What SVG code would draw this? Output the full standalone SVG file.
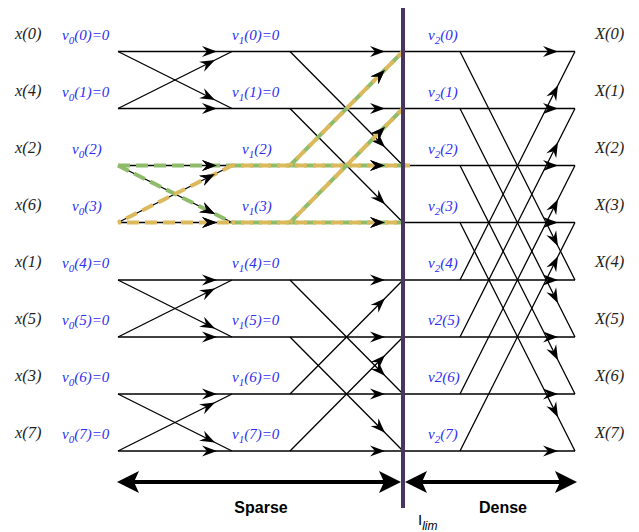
<svg xmlns="http://www.w3.org/2000/svg" width="639" height="532" viewBox="0 0 639 532">
<style>
.lab{font-family:"Liberation Serif",serif;font-style:italic;font-size:15px}
.x{fill:#222;font-size:16.5px}
.v{fill:#2d2df2}
.ln{fill:none;stroke:#000;stroke-width:1.3;marker-mid:url(#ah)}
.mk{fill:none;stroke:none;marker-mid:url(#ah)}
.g{fill:none;stroke:#8fbc6b;stroke-width:4;stroke-dasharray:12 6}
.o{fill:none;stroke:#dcb95c;stroke-width:4;stroke-dasharray:12 6;stroke-dashoffset:9}
.big{fill:#000}
.cap{font-family:"Liberation Sans",sans-serif;font-weight:bold;font-size:16px;fill:#000}
</style>
<defs>
<marker id="ah" markerUnits="userSpaceOnUse" markerWidth="16" markerHeight="12" viewBox="-16 -6 16 12" refX="0" refY="0" orient="auto">
<path d="M0,0 L-15,-5.5 L-10,0 L-15,5.5 Z" fill="#000"/>
</marker>
</defs>
<rect width="639" height="532" fill="#fff"/>

<g id="connectors">
<path class="ln" d="M118 51.5 L217 51.5 L385 51.5 L558 51.5 L575 51.5"/>
<path class="ln" d="M118 108.5 L217 108.5 L385 108.5 L558 108.5 L575 108.5"/>
<path class="ln" d="M118 165.5 L217 165.5 L385 165.5 L558 165.5 L575 165.5"/>
<path class="ln" d="M118 222.5 L217 222.5 L385 222.5 L558 222.5 L575 222.5"/>
<path class="ln" d="M118 280 L217 280 L385 280 L558 280 L575 280"/>
<path class="ln" d="M118 337 L217 337 L385 337 L558 337 L575 337"/>
<path class="ln" d="M118 394 L217 394 L385 394 L558 394 L575 394"/>
<path class="ln" d="M118 451 L217 451 L385 451 L558 451 L575 451"/>

<path class="ln" d="M118 51.5 L215 100 L232 108.5"/>
<path class="ln" d="M118 108.5 L215 60 L232 51.5"/>
<path class="ln" d="M118 165.5 L215 214 L232 222.5"/>
<path class="ln" d="M118 222.5 L215 174 L232 165.5"/>
<path class="ln" d="M118 280 L215 328.5 L232 337"/>
<path class="ln" d="M118 337 L215 288.5 L232 280"/>
<path class="ln" d="M118 394 L215 442.5 L232 451"/>
<path class="ln" d="M118 451 L215 402.5 L232 394"/>

<path class="ln" d="M290 51.5 L385 147.3 L403 165.5"/>
<path class="ln" d="M290 108.5 L385 204.3 L403 222.5"/>
<path class="ln" d="M290 165.5 L385 69.7 L403 51.5"/>
<path class="ln" d="M290 222.5 L385 126.7 L403 108.5"/>
<path class="ln" d="M290 280 L385 375.8 L403 394"/>
<path class="ln" d="M290 337 L385 432.8 L403 451"/>
<path class="ln" d="M290 394 L385 298.2 L403 280"/>
<path class="ln" d="M290 451 L385 355.2 L403 337"/>

<path class="ln" d="M460 51.5 L558 246.2 L575 280"/>
<path class="ln" d="M460 108.5 L558 303.2 L575 337"/>
<path class="ln" d="M460 165.5 L558 360.2 L575 394"/>
<path class="ln" d="M460 222.5 L558 417.2 L575 451"/>
<path class="ln" d="M460 280 L558 85.3 L575 51.5"/>
<path class="ln" d="M460 337 L558 142.3 L575 108.5"/>
<path class="ln" d="M460 394 L558 199.3 L575 165.5"/>
<path class="ln" d="M460 451 L558 256.3 L575 222.5"/>
</g>

<g id="highlight">
<path class="g" d="M118 165.5 L232 165.5"/>
<path class="g" d="M118 165.5 L232 222.5"/>
<path class="g" d="M232 165.5 L410 165.5"/>
<path class="g" d="M232 222.5 L405 222.5"/>
<path class="g" d="M290 165.5 L403 51.5"/>
<path class="g" d="M290 222.5 L403 108.5"/>
<path class="o" d="M118 222.5 L232 222.5"/>
<path class="o" d="M118 222.5 L232 165.5"/>
<path class="o" d="M232 165.5 L410 165.5"/>
<path class="o" d="M232 222.5 L405 222.5"/>
<path class="o" d="M290 165.5 L403 51.5"/>
<path class="o" d="M290 222.5 L403 108.5"/>
<path class="mk" d="M118 165.5 L217 165.5 L385 165.5 L400 165.5"/>
<path class="mk" d="M118 222.5 L217 222.5 L385 222.5 L400 222.5"/>
<path class="mk" d="M118 165.5 L215 214 L232 222.5"/>
<path class="mk" d="M118 222.5 L215 174 L232 165.5"/>
<path class="mk" d="M290 165.5 L385 69.7 L403 51.5"/>
<path class="mk" d="M290 222.5 L385 126.7 L403 108.5"/>
</g>

<g id="limit">
<line x1="403" y1="8" x2="403" y2="508" stroke="#4a3560" stroke-width="4"/>
<text x="418" y="525" font-family="Liberation Sans, sans-serif" font-size="15" fill="#000">I<tspan font-style="italic" font-size="12" dy="5">lim</tspan></text>
</g>

<g id="sparse-arrow">
<line x1="132" y1="482" x2="386" y2="482" stroke="#000" stroke-width="4"/>
<polygon class="big" points="117,482 139,471 134,482 139,493"/>
<polygon class="big" points="401,482 379,471 384,482 379,493"/>
<text class="cap" x="261" y="513" text-anchor="middle">Sparse</text>
</g>
<g id="dense-arrow">
<line x1="420" y1="482" x2="562" y2="482" stroke="#000" stroke-width="4"/>
<polygon class="big" points="405,482 427,471 422,482 427,493"/>
<polygon class="big" points="577,482 555,471 560,482 555,493"/>
<text class="cap" x="503" y="513" text-anchor="middle">Dense</text>
</g>

<g id="inputs" class="lab x">
<text x="15" y="38.5">x(0)</text>
<text x="15" y="95.5">x(4)</text>
<text x="15" y="152.5">x(2)</text>
<text x="15" y="209.5">x(6)</text>
<text x="15" y="267">x(1)</text>
<text x="15" y="324">x(5)</text>
<text x="15" y="381">x(3)</text>
<text x="15" y="438">x(7)</text>
</g>

<g id="stage0" class="lab v">
<text x="62" y="39.5">v<tspan dy="4" font-size="11">0</tspan><tspan dy="-4">(0)=0</tspan></text>
<text x="62" y="96.5">v<tspan dy="4" font-size="11">0</tspan><tspan dy="-4">(1)=0</tspan></text>
<text x="72" y="153.5">v<tspan dy="4" font-size="11">0</tspan><tspan dy="-4">(2)</tspan></text>
<text x="72" y="210.5">v<tspan dy="4" font-size="11">0</tspan><tspan dy="-4">(3)</tspan></text>
<text x="62" y="268">v<tspan dy="4" font-size="11">0</tspan><tspan dy="-4">(4)=0</tspan></text>
<text x="62" y="325">v<tspan dy="4" font-size="11">0</tspan><tspan dy="-4">(5)=0</tspan></text>
<text x="62" y="382">v<tspan dy="4" font-size="11">0</tspan><tspan dy="-4">(6)=0</tspan></text>
<text x="62" y="439">v<tspan dy="4" font-size="11">0</tspan><tspan dy="-4">(7)=0</tspan></text>
</g>

<g id="stage1" class="lab v">
<text x="232" y="39.5">v<tspan dy="4" font-size="11">1</tspan><tspan dy="-4">(0)=0</tspan></text>
<text x="232" y="96.5">v<tspan dy="4" font-size="11">1</tspan><tspan dy="-4">(1)=0</tspan></text>
<text x="242" y="153.5">v<tspan dy="4" font-size="11">1</tspan><tspan dy="-4">(2)</tspan></text>
<text x="242" y="210.5">v<tspan dy="4" font-size="11">1</tspan><tspan dy="-4">(3)</tspan></text>
<text x="232" y="268">v<tspan dy="4" font-size="11">1</tspan><tspan dy="-4">(4)=0</tspan></text>
<text x="232" y="325">v<tspan dy="4" font-size="11">1</tspan><tspan dy="-4">(5)=0</tspan></text>
<text x="232" y="382">v<tspan dy="4" font-size="11">1</tspan><tspan dy="-4">(6)=0</tspan></text>
<text x="232" y="439">v<tspan dy="4" font-size="11">1</tspan><tspan dy="-4">(7)=0</tspan></text>
</g>

<g id="stage2" class="lab v">
<text x="428" y="39.5">v<tspan dy="4" font-size="11">2</tspan><tspan dy="-4">(0)</tspan></text>
<text x="428" y="96.5">v<tspan dy="4" font-size="11">2</tspan><tspan dy="-4">(1)</tspan></text>
<text x="428" y="153.5">v<tspan dy="4" font-size="11">2</tspan><tspan dy="-4">(2)</tspan></text>
<text x="428" y="210.5">v<tspan dy="4" font-size="11">2</tspan><tspan dy="-4">(3)</tspan></text>
<text x="428" y="268">v<tspan dy="4" font-size="11">2</tspan><tspan dy="-4">(4)</tspan></text>
<text x="428" y="325">v2(5)</text>
<text x="428" y="382">v2(6)</text>
<text x="428" y="439">v<tspan dy="4" font-size="11">2</tspan><tspan dy="-4">(7)</tspan></text>
</g>

<g id="outputs" class="lab x">
<text x="595" y="38.5">X(0)</text>
<text x="595" y="95.5">X(1)</text>
<text x="595" y="152.5">X(2)</text>
<text x="595" y="209.5">X(3)</text>
<text x="595" y="267">X(4)</text>
<text x="595" y="324">X(5)</text>
<text x="595" y="381">X(6)</text>
<text x="595" y="438">X(7)</text>
</g>
</svg>
